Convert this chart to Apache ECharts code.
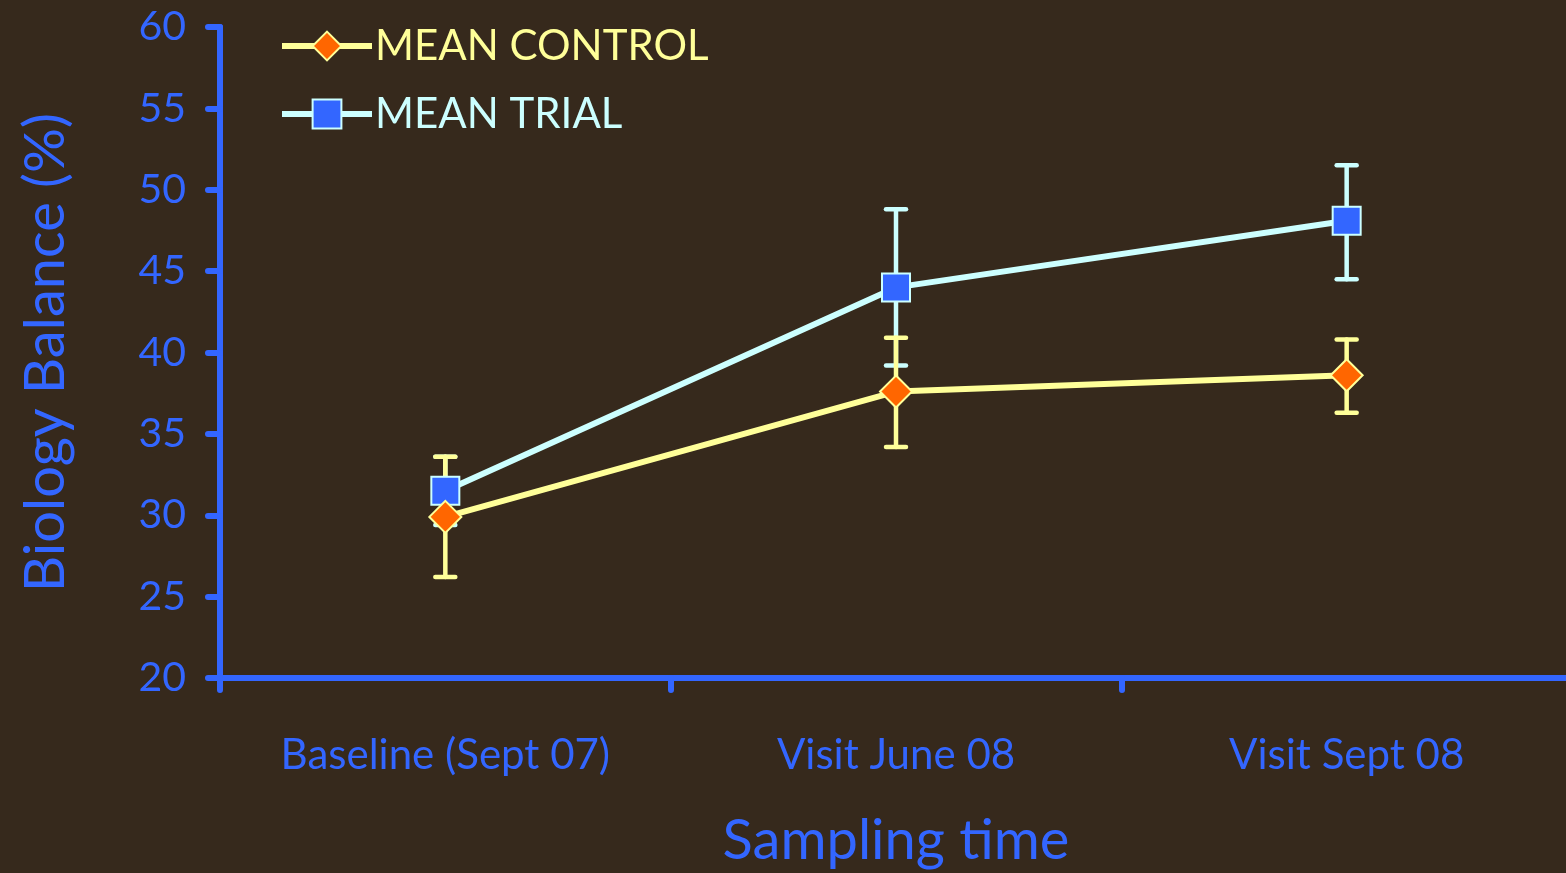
<!DOCTYPE html>
<html>
<head>
<meta charset="utf-8">
<script src="https://cdn.jsdelivr.net/npm/echarts@6/dist/echarts.min.js"></script>
<style>
html,body{margin:0;padding:0;background:#36291c;}
#c{width:1566px;height:873px;}
</style>
</head>
<body>
<div id="c"></div>
<script>
const categories = ['Baseline (Sept 07)', 'Visit June 08', 'Visit Sept 08'];
const controlMean = [29.9, 37.6, 38.6];
const controlLow = [26.2, 34.2, 36.3];
const controlHigh = [33.6, 40.9, 40.8];
const trialMean = [31.5, 44.0, 48.1];
const trialLow = [29.4, 39.2, 44.5];
const trialHigh = [33.6, 48.8, 51.5];
const yTicks = [20, 25, 30, 35, 40, 45, 50, 55, 60];

const FONT = 'Lato';
const BLUE = '#3366ff';
const YEL = '#ffff99';
const CYAN = '#ccffff';

function errData(lo, hi) {
  return categories.map((c, i) => [i, lo[i], hi[i]]);
}
function errRender(color) {
  return function (params, api) {
    const x = api.value(0);
    const p1 = api.coord([x, api.value(1)]);
    const p2 = api.coord([x, api.value(2)]);
    const hw = 10;
    const style = { stroke: color, lineWidth: 4.5, lineCap: 'round' };
    return {
      type: 'group',
      children: [
        { type: 'line', shape: { x1: p1[0], y1: p1[1], x2: p2[0], y2: p2[1] }, style },
        { type: 'line', shape: { x1: p1[0] - hw, y1: p1[1], x2: p1[0] + hw, y2: p1[1] }, style },
        { type: 'line', shape: { x1: p2[0] - hw, y1: p2[1], x2: p2[0] + hw, y2: p2[1] }, style }
      ]
    };
  };
}

const chart = echarts.init(document.getElementById('c'));
chart.setOption({
  backgroundColor: '#36291c',
  animation: false,
  textStyle: { fontFamily: FONT },
  grid: { left: 220, top: 27, right: -6, bottom: 195, containLabel: false, outerBoundsMode: 'none' },
  legend: {
    orient: 'vertical',
    left: 274,
    top: 20,
    itemWidth: 90,
    itemHeight: 36,
    itemGap: 26,
    lineStyle: { width: 6 },
    textStyle: { fontFamily: FONT, fontSize: 42, padding: [0, 0, 0, -2] },
    data: [
      { name: 'MEAN CONTROL', textStyle: { color: YEL } },
      { name: 'MEAN TRIAL', textStyle: { color: CYAN } }
    ]
  },
  xAxis: {
    type: 'category',
    data: categories,
    boundaryGap: true,
    axisLine: { lineStyle: { color: BLUE, width: 6, cap: 'round' } },
    axisTick: { show: true, length: 12, lineStyle: { color: BLUE, width: 6, cap: 'round' } },
    axisLabel: { color: BLUE, fontSize: 42, margin: 56, fontFamily: FONT },
    name: 'Sampling time',
    nameLocation: 'middle',
    nameGap: 135,
    nameTextStyle: { color: BLUE, fontSize: 56, fontFamily: FONT },
    splitLine: { show: false }
  },
  yAxis: {
    type: 'value',
    min: yTicks[0],
    max: yTicks[yTicks.length - 1],
    interval: 5,
    axisLine: { show: true, lineStyle: { color: BLUE, width: 6, cap: 'round' } },
    axisTick: { show: true, length: 12, lineStyle: { color: BLUE, width: 6, cap: 'round' } },
    axisLabel: { color: BLUE, fontSize: 41, margin: 34, fontFamily: FONT },
    splitLine: { show: false },
    name: 'Biology Balance (%)',
    nameLocation: 'middle',
    nameGap: 146,
    nameRotate: 90,
    nameTextStyle: { color: BLUE, fontSize: 56, fontFamily: FONT }
  },
  series: [
    {
      name: 'trialErr', type: 'custom', z: 2,
      data: errData(trialLow, trialHigh),
      encode: { x: 0, y: [1, 2] },
      renderItem: errRender(CYAN)
    },
    {
      name: 'controlErr', type: 'custom', z: 3,
      data: errData(controlLow, controlHigh),
      encode: { x: 0, y: [1, 2] },
      renderItem: errRender(YEL)
    },
    {
      name: 'MEAN TRIAL', type: 'line', z: 4,
      data: trialMean,
      symbol: 'rect', symbolSize: 28,
      lineStyle: { color: CYAN, width: 6 },
      itemStyle: { color: BLUE, borderColor: CYAN, borderWidth: 2 }
    },
    {
      name: 'MEAN CONTROL', type: 'line', z: 5,
      data: controlMean,
      symbol: 'diamond', symbolSize: 32,
      lineStyle: { color: YEL, width: 6 },
      itemStyle: { color: '#ff6600', borderColor: YEL, borderWidth: 2 }
    }
  ]
});
</script>
</body>
</html>
